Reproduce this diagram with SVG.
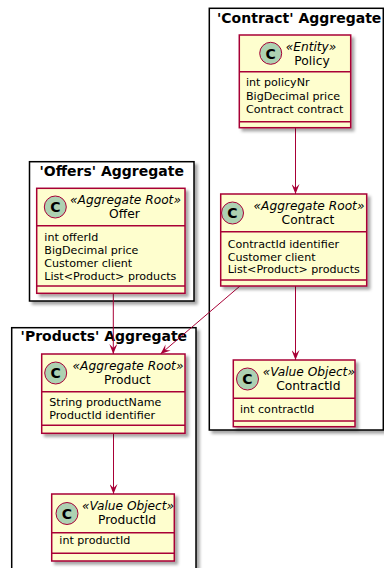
<svg xmlns="http://www.w3.org/2000/svg" width="384" height="568" viewBox="0 0 384 568">
<defs>
<filter id="sh" x="-10%" y="-10%" width="130%" height="130%">
<feDropShadow dx="3" dy="3" stdDeviation="1.8" flood-color="#000" flood-opacity="0.35"/>
</filter>
<marker id="ah" viewBox="0 0 10 8" refX="10" refY="4" markerWidth="10" markerHeight="8" markerUnits="userSpaceOnUse" orient="auto">
<path d="M0,0 L10,4 L0,8 L4,4 Z" fill="#A80036"/>
</marker>
<style>
.pkg{fill:#fff;stroke:#000;stroke-width:1.5;filter:url(#sh)}
.pt{font-family:"DejaVu Sans",sans-serif;font-size:14px;font-weight:bold;text-anchor:middle;fill:#000}
.box{fill:#FEFECE;stroke:#A80036;stroke-width:1.5;filter:url(#sh)}
.sep{stroke:#A80036;stroke-width:1.5}
.ic{fill:#ADD1B2;stroke:#A80036;stroke-width:1}
.icl{font-family:"DejaVu Sans",sans-serif;font-size:14px;font-weight:bold;text-anchor:middle;fill:#000}
.st{font-family:"DejaVu Sans",sans-serif;font-size:12.2px;font-style:italic;text-anchor:middle;fill:#000}
.nm{font-family:"DejaVu Sans",sans-serif;font-size:12.3px;text-anchor:middle;fill:#000}
.at{font-family:"DejaVu Sans",sans-serif;font-size:11.1px;fill:#000}
.con{fill:none;stroke:#A80036;stroke-width:1;marker-end:url(#ah)}
</style>
</defs>
<rect width="384" height="568" fill="#fff"/>

<g id="pkg-contract">
<rect class="pkg" x="209.3" y="8.3" width="174" height="421.7"/>
<text class="pt" x="299.2" y="22.8">'Contract' Aggregate</text>
</g>
<g id="pkg-offers">
<rect class="pkg" x="29.5" y="161.7" width="164.5" height="139.3"/>
<text class="pt" x="111.75" y="176">'Offers' Aggregate</text>
</g>
<g id="pkg-products">
<rect class="pkg" x="11.7" y="327.7" width="184.3" height="260"/>
<text class="pt" x="103.85" y="341">'Products' Aggregate</text>
</g>

<g id="connectors">
<path class="con" d="M295.5,127.7 L295.5,194"/>
<path class="con" d="M295.5,286 L295.5,360"/>
<path class="con" d="M113.3,293.3 L113.3,354"/>
<path class="con" d="M240,286 L160.5,354"/>
<path class="con" d="M113.5,433.3 L113.5,494"/>
</g>

<g id="policy">
<rect class="box" x="239.3" y="35" width="111.4" height="92.7"/>
<line class="sep" x1="239.3" y1="71.7" x2="350.7" y2="71.7"/>
<line class="sep" x1="239.3" y1="121.7" x2="350.7" y2="121.7"/>
<circle class="ic" cx="270.7" cy="53.3" r="11"/>
<text class="icl" x="270.7" y="58.5">C</text>
<text class="st" x="311" y="51">«Entity»</text>
<text class="nm" x="312" y="64.5">Policy</text>
<text class="at" x="246" y="86">int policyNr</text>
<text class="at" x="246" y="99.5">BigDecimal price</text>
<text class="at" x="246" y="113">Contract contract</text>
</g>

<g id="contract">
<rect class="box" x="220.7" y="194" width="146" height="92"/>
<line class="sep" x1="220.7" y1="231.7" x2="366.7" y2="231.7"/>
<line class="sep" x1="220.7" y1="280" x2="366.7" y2="280"/>
<circle class="ic" cx="232.5" cy="213" r="11"/>
<text class="icl" x="232.5" y="218.2">C</text>
<text class="st" x="309" y="210">«Aggregate Root»</text>
<text class="nm" x="308" y="223.5">Contract</text>
<text class="at" x="227.7" y="247.5">ContractId identifier</text>
<text class="at" x="227.7" y="260.5">Customer client</text>
<text class="at" x="227.7" y="273.2">List&lt;Product&gt; products</text>
</g>

<g id="contractid">
<rect class="box" x="233.3" y="360" width="121.7" height="66.7"/>
<line class="sep" x1="233.3" y1="398.3" x2="355" y2="398.3"/>
<line class="sep" x1="233.3" y1="421" x2="355" y2="421"/>
<circle class="ic" cx="247.5" cy="379" r="11"/>
<text class="icl" x="247.5" y="384.2">C</text>
<text class="st" x="308.8" y="376">«Value Object»</text>
<text class="nm" x="308.3" y="389.8">ContractId</text>
<text class="at" x="240" y="413.3">int contractId</text>
</g>

<g id="offer">
<rect class="box" x="36.7" y="188.3" width="148.3" height="105"/>
<line class="sep" x1="36.7" y1="225.7" x2="185" y2="225.7"/>
<line class="sep" x1="36.7" y1="286" x2="185" y2="286"/>
<circle class="ic" cx="55.3" cy="207" r="11"/>
<text class="icl" x="55.3" y="212.2">C</text>
<text class="st" x="125.5" y="204">«Aggregate Root»</text>
<text class="nm" x="124.5" y="217.6">Offer</text>
<text class="at" x="44.3" y="240.7">int offerId</text>
<text class="at" x="44.3" y="253.7">BigDecimal price</text>
<text class="at" x="44.3" y="266.6">Customer client</text>
<text class="at" x="44.3" y="279.7">List&lt;Product&gt; products</text>
</g>

<g id="product">
<rect class="box" x="41.7" y="354" width="143.3" height="79.3"/>
<line class="sep" x1="41.7" y1="391.7" x2="185" y2="391.7"/>
<line class="sep" x1="41.7" y1="425.3" x2="185" y2="425.3"/>
<circle class="ic" cx="55.7" cy="373" r="11"/>
<text class="icl" x="55.7" y="378.2">C</text>
<text class="st" x="128" y="370">«Aggregate Root»</text>
<text class="nm" x="127.3" y="383.6">Product</text>
<text class="at" x="49.3" y="405.7">String productName</text>
<text class="at" x="49.3" y="419">ProductId identifier</text>
</g>

<g id="productid">
<rect class="box" x="51.7" y="494" width="122.6" height="67"/>
<line class="sep" x1="51.7" y1="532.7" x2="174.3" y2="532.7"/>
<line class="sep" x1="51.7" y1="553.3" x2="174.3" y2="553.3"/>
<circle class="ic" cx="67" cy="513.5" r="11"/>
<text class="icl" x="67" y="518.7">C</text>
<text class="st" x="128" y="510">«Value Object»</text>
<text class="nm" x="127" y="523.8">ProductId</text>
<text class="at" x="59.3" y="544">int productId</text>
</g>
</svg>
